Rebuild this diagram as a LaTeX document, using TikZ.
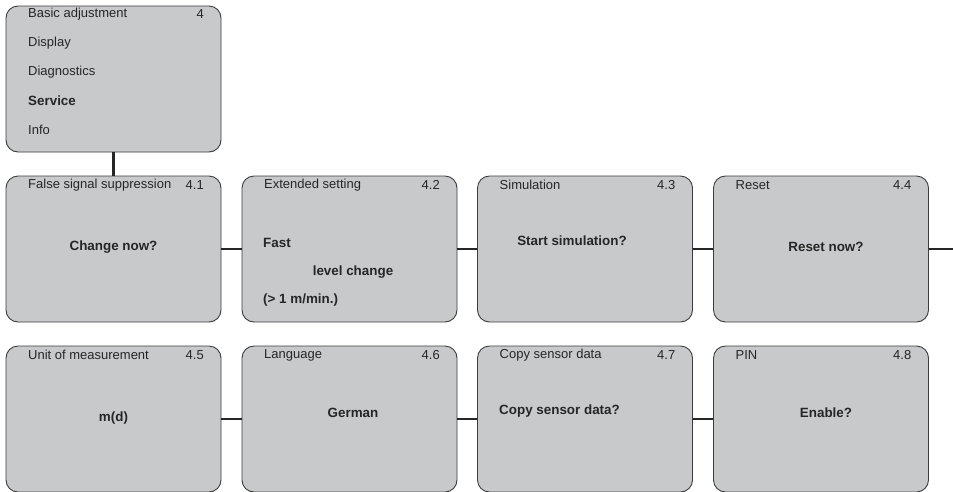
\documentclass[tikz,border=0pt]{standalone}
\usepackage{fontspec}
\setmainfont{Liberation Sans}
\definecolor{boxgrey}{RGB}{200,201,203}
\definecolor{edgegrey}{RGB}{60,60,60}
\begin{document}
\begin{tikzpicture}
  [x=1pt,y=-1pt,every node/.style={font=\fontsize{13}{15}\selectfont,text=black!85,inner sep=0pt}]
  \tikzstyle{menubox} = [draw=edgegrey,fill=boxgrey,line width=0.9pt,rounded corners=12pt,minimum width=215pt,minimum height=146pt]
  \tikzstyle{link} = [line width=2.4pt,draw=black!85]
  \tikzstyle{head} = [anchor=west]
  \tikzstyle{num} = [anchor=east]
  \tikzstyle{ask} = [font=\fontsize{13.4}{15}\selectfont\bfseries]
  \useasboundingbox (0,0) rectangle (953,491);

  % main menu
  \node[menubox] (menu) at (113.5,79) {};
  \node[head] at (28,14) {Basic adjustment};
  \node[num] at (204,14) {4};
  \node[head] at (28,43) {Display};
  \node[head] at (28,72) {Diagnostics};
  \node[head,ask] at (28,101) {Service};
  \node[head] at (28,130) {Info};

  % service boxes
  \foreach \name/\x/\y/\title/\nr in {s41/113.5/249/False signal suppression/4.1,
      s42/349.5/249/Extended setting/4.2, s43/585/249/Simulation/4.3, s44/821/249/Reset/4.4,
      s45/113.5/419/Unit of measurement/4.5, s46/349.5/419/Language/4.6,
      s47/585/419/Copy sensor data/4.7, s48/821/419/PIN/4.8} {
    \node[menubox] (\name) at (\x,\y) {};
    \node[head] at (\x-85.5,\y-64) {\title};
    \node[num] at (\x+90.5,\y-64) {\nr};
  }

  \node[ask] at (113.5,247) {Change now?};
  \node[ask,anchor=west] at (263,243) {Fast};
  \node[ask] at (353,272) {level change};
  \node[ask,anchor=west] at (263,300) {(> 1 m/min.)};
  \node[ask] at (572,241) {Start simulation?};
  \node[ask] at (826,247) {Reset now?};
  \node[ask] at (113.5,418) {m(d)};
  \node[ask] at (353,413) {German};
  \node[ask,anchor=west] at (499,411) {Copy sensor data?};
  \node[ask] at (826,413) {Enable?};

  \coordinate (more) at (953,249);
  \draw[link] (menu) -- (s41);
  \foreach \source/\dest in {s41/s42,s42/s43,s43/s44,s44/more,s45/s46,s46/s47,s47/s48}
    \draw[link] (\source.east) -- (\dest.west |- \source.east);
\end{tikzpicture}
\end{document}
